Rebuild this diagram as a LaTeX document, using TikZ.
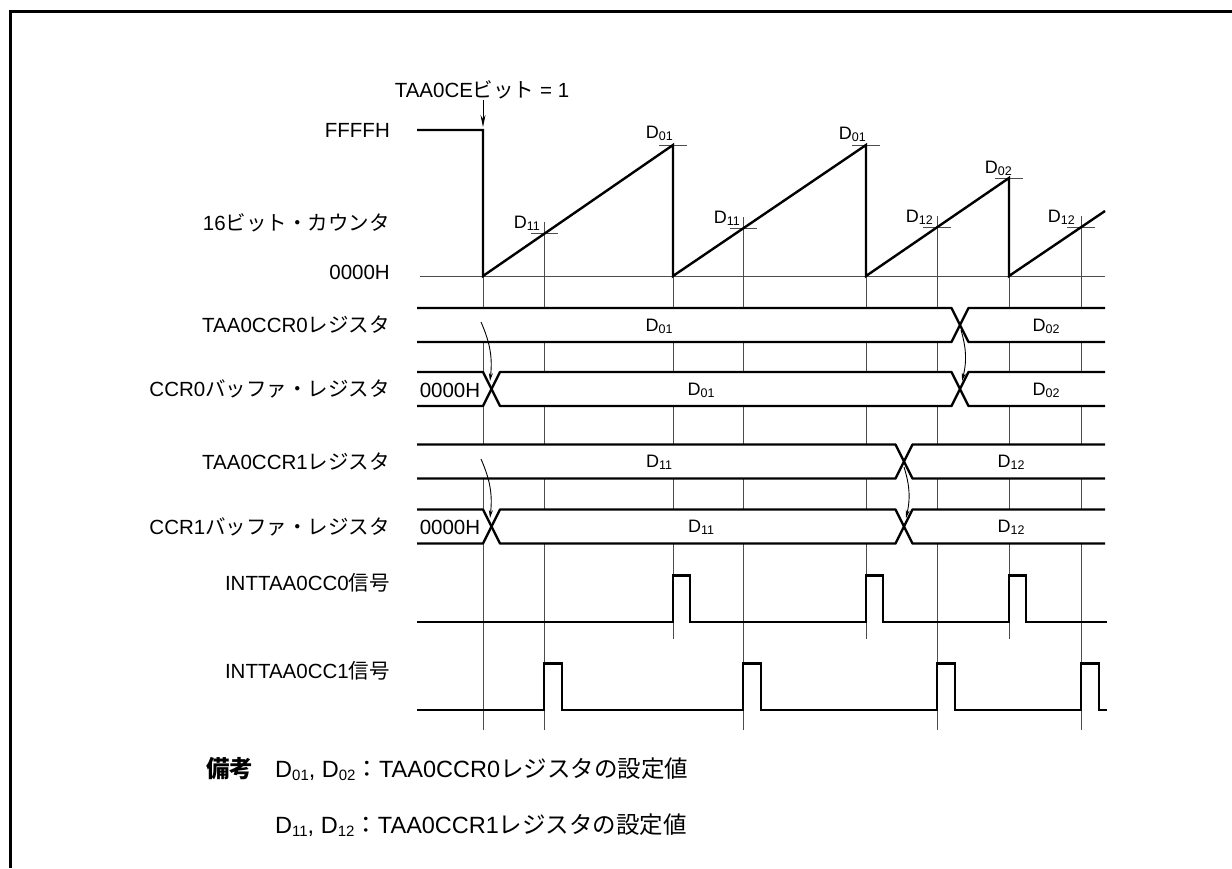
\documentclass[tikz,border=0pt]{standalone}
\usepackage{fontspec}
\setmainfont{Liberation Sans}
\newfontfamily\jp{Noto Sans CJK JP}
\usetikzlibrary{arrows.meta}
\newcommand\Dsb[1]{D\raisebox{-0.12em}{\fontsize{12.5}{12.5}\selectfont #1}}
\newcommand\Dnb[1]{D\raisebox{-0.12em}{\fontsize{15}{15}\selectfont #1}}
\tikzset{
  sigline/.style={line width=2.4pt, line join=miter},
  busline/.style={line width=2.4pt, line join=bevel, fill=white},
  guide/.style={line width=0.9pt, black!70},
  lbl/.style={font=\fontsize{20.5}{24}\selectfont, inner sep=0pt},
  dlbl/.style={font=\fontsize{18}{20}\selectfont, inner sep=0pt},
  notelbl/.style={font=\fontsize{23.5}{28}\selectfont, inner sep=0pt},
  thinarrow/.style={line width=0.9pt, -{Stealth[length=8pt,width=4pt]}},
}
\begin{document}
\begin{tikzpicture}[x=1pt,y=-1pt]
\useasboundingbox (0,0) rectangle (1232,868);
% frame
\draw[line width=3pt] (10,868) -- (10,11) -- (1232,11);

% guide lines
\draw[guide] (483,276) -- (483,730);
\draw[guide] (544,222) -- (544,730);
\draw[guide] (673,276) -- (673,639);
\draw[guide] (743,217) -- (743,730);
\draw[guide] (866,276) -- (866,639);
\draw[guide] (937,216) -- (937,730);
\draw[guide] (1009,276) -- (1009,639);
\draw[guide] (1081,216) -- (1081,730);
\draw[guide] (420,276) -- (1105,276);
% ticks
\draw[guide] (659,145) -- (687,145);
\draw[guide] (852,145) -- (880,145);
\draw[guide] (995,178) -- (1023,178);
\draw[guide] (531,233.9) -- (558,233.9);
\draw[guide] (730,228.5) -- (757,228.5);
\draw[guide] (923,227.3) -- (951,227.3);
\draw[guide] (1067,227.3) -- (1095,227.3);

% counter
\draw[sigline] (417,130) -- (483,130) -- (483,276) -- (673,145) -- (673,276)
  -- (866,145) -- (866,276) -- (1009,178) -- (1009,276) -- (1105,211);

% counter labels
\node[dlbl, anchor=base east] (d01a) at (673,138) {\Dsb{01}};
\node[dlbl, anchor=base east] (d01b) at (866,139) {\Dsb{01}};
\node[dlbl, anchor=base east] (d02a) at (1012,173) {\Dsb{02}};
\node[dlbl, anchor=base east] (d11a) at (540,228) {\Dsb{11}};
\node[dlbl, anchor=base east] (d11b) at (740,223) {\Dsb{11}};
\node[dlbl, anchor=base east] (d12a) at (933,222) {\Dsb{12}};
\node[dlbl, anchor=base east] (d12b) at (1075,222) {\Dsb{12}};

% TAA0CE
\node[lbl] (ce) at (482,90) {TAA0CE{\jp ビット} = 1};
\coordinate (ceS) at (483,100);
\coordinate (ceE) at (483,127);
\draw[line width=0.9pt, -{Stealth[length=12pt,width=5pt]}] (ceS) -- (ceE);

% row labels
\node[lbl, anchor=east] (lF) at (390,130) {FFFFH};
\node[lbl, anchor=east] (lCnt) at (390,223) {16{\jp ビット・カウンタ}};
\node[lbl, anchor=east] (l0) at (390,272) {0000H};
\node[lbl, anchor=east] (lR0) at (390,325) {TAA0CCR0{\jp レジスタ}};
\node[lbl, anchor=east] (lB0) at (390,389) {CCR0{\jp バッファ・レジスタ}};
\node[lbl, anchor=east] (lR1) at (390,462) {TAA0CCR1{\jp レジスタ}};
\node[lbl, anchor=east] (lB1) at (390,527) {CCR1{\jp バッファ・レジスタ}};
\node[lbl, anchor=east] (lI0) at (390,583) {INTTAA0CC0{\jp 信号}};
\node[lbl, anchor=east] (lI1) at (390,671) {INTTAA0CC1{\jp 信号}};

% bus 1 : TAA0CCR0
\draw[busline] (417,308) -- (951.5,308) -- (960,325) -- (951.5,342) -- (417,342);
\draw[busline] (1105,308) -- (968.5,308) -- (960,325) -- (968.5,342) -- (1105,342);
% bus 2 : CCR0 buffer
\draw[busline] (417,372) -- (483,372) -- (491.5,389) -- (483,406) -- (417,406);
\draw[busline] (491.5,389) -- (500,372) -- (951.5,372) -- (960,389) -- (951.5,406) -- (500,406) -- cycle;
\draw[busline] (1105,372) -- (968.5,372) -- (960,389) -- (968.5,406) -- (1105,406);
% bus 3 : TAA0CCR1
\draw[busline] (417,444.5) -- (895.5,444.5) -- (904,461.5) -- (895.5,478.5) -- (417,478.5);
\draw[busline] (1105,444.5) -- (912.5,444.5) -- (904,461.5) -- (912.5,478.5) -- (1105,478.5);
% bus 4 : CCR1 buffer
\draw[busline] (417,509.5) -- (483,509.5) -- (491.5,526.5) -- (483,543.5) -- (417,543.5);
\draw[busline] (491.5,526.5) -- (500,509.5) -- (895.5,509.5) -- (904,526.5) -- (895.5,543.5) -- (500,543.5) -- cycle;
\draw[busline] (1105,509.5) -- (912.5,509.5) -- (904,526.5) -- (912.5,543.5) -- (1105,543.5);

% bus values
\node[dlbl] (v1a) at (659,326) {\Dsb{01}};
\node[dlbl] (v1b) at (1046,326) {\Dsb{02}};
\node[lbl] (v2z) at (450,390) {0000H};
\node[dlbl] (v2a) at (701,390) {\Dsb{01}};
\node[dlbl] (v2b) at (1046,390) {\Dsb{02}};
\node[dlbl] (v3a) at (659,462.5) {\Dsb{11}};
\node[dlbl] (v3b) at (1011,462.5) {\Dsb{12}};
\node[lbl] (v4z) at (450,527.5) {0000H};
\node[dlbl] (v4a) at (701,527.5) {\Dsb{11}};
\node[dlbl] (v4b) at (1011,527.5) {\Dsb{12}};

% transfer arrows
\coordinate (t1s) at (481,322);
\coordinate (t1e) at (490,381);
\coordinate (t2s) at (961,330);
\coordinate (t2e) at (962,381);
\coordinate (t3s) at (481,459);
\coordinate (t3e) at (490,518);
\coordinate (t4s) at (904,467);
\coordinate (t4e) at (906,518);
\draw[thinarrow] (t1s) to[bend left=15] (t1e);
\draw[thinarrow] (t2s) to[bend left=15] (t2e);
\draw[thinarrow] (t3s) to[bend left=15] (t3e);
\draw[thinarrow] (t4s) to[bend left=15] (t4e);

% interrupt pulses
\draw[sigline] (417,622) -- (673,622) -- (673,575.5) -- (690,575.5) -- (690,622)
  -- (866,622) -- (866,575.5) -- (883,575.5) -- (883,622)
  -- (1009,622) -- (1009,575.5) -- (1026,575.5) -- (1026,622) -- (1107,622);
\draw[sigline] (417,710) -- (544,710) -- (544,663.5) -- (562,663.5) -- (562,710)
  -- (743,710) -- (743,663.5) -- (761,663.5) -- (761,710)
  -- (937,710) -- (937,663.5) -- (955,663.5) -- (955,710)
  -- (1081,710) -- (1081,663.5) -- (1099,663.5) -- (1099,710) -- (1107,710);

% note
\node[notelbl, anchor=west] (nh) at (206,769) {\jp\bfseries 備考};
\node[notelbl, anchor=west] (n1) at (275,769) {\Dnb{01}, \Dnb{02}{\jp ：}TAA0CCR0{\jp レジスタの設定値}};
\node[notelbl, anchor=west] (n2) at (275,825) {\Dnb{11}, \Dnb{12}{\jp ：}TAA0CCR1{\jp レジスタの設定値}};
\end{tikzpicture}
\end{document}
